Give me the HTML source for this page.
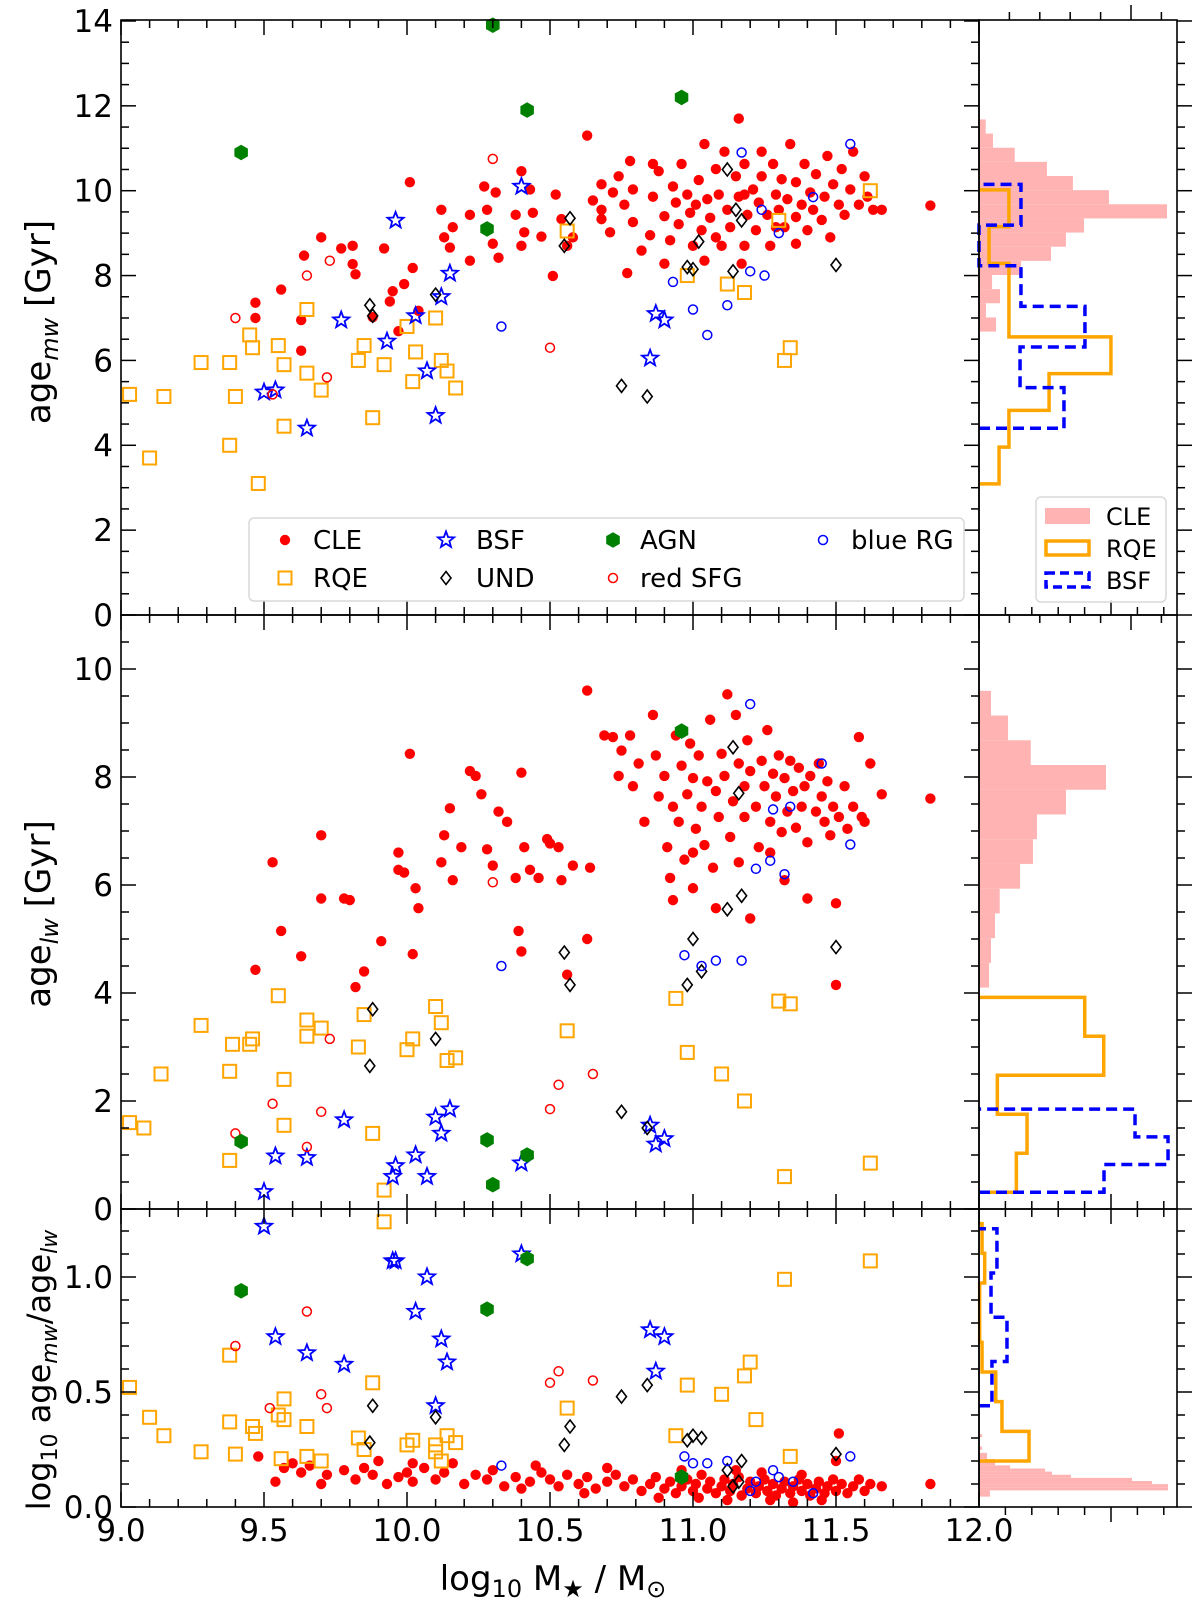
<!DOCTYPE html>
<html><head><meta charset="utf-8"><style>
html,body{margin:0;padding:0;background:#fff;}
svg{display:block;font-family:"DejaVu Sans","Liberation Sans",sans-serif;}
</style></head><body>
<svg id="chart" width="1200" height="1601" viewBox="0 0 1200 1601" xmlns="http://www.w3.org/2000/svg">
<g id="marks"></g>
<g id="axes"></g>
<g id="legends"></g>
</svg>
<script>
// ---------- data (mass, age) ----------
const topCLE=[9.47,7.36,9.47,7.0,9.56,7.67,9.63,6.23,9.63,6.95,9.70,8.9,9.64,8.47,9.77,8.64,9.81,8.7,9.81,8.27,9.82,8.03,9.92,8.64,9.88,7.02,9.94,7.39,9.97,6.69,9.95,7.63,10.01,10.2,10.02,8.18,9.99,7.8,10.04,7.17,10.12,9.55,10.13,8.9,10.15,8.66,10.16,9.14,10.22,9.43,10.22,8.35,10.27,10.1,10.28,9.55,10.31,9.96,10.30,8.75,10.32,8.42,10.38,9.43,10.40,10.46,10.40,8.7,10.41,9.02,10.43,10.03,10.44,9.48,10.47,8.92,10.52,9.91,10.54,9.33,10.56,8.7,10.51,7.99,10.58,8.9,10.63,11.3,10.65,9.77,10.68,9.33,10.68,10.15,10.71,9.02,10.74,10.34,10.76,9.67,10.78,10.7,10.79,9.26,10.82,8.59,10.85,8.95,10.86,9.86,10.88,10.46,10.9,9.4,10.92,8.83,10.93,10.1,10.94,9.72,10.95,9.21,10.96,10.63,10.98,9.91,10.99,9.48,11.0,8.7,11.01,9.67,11.02,10.25,11.03,9.07,11.04,8.35,11.05,9.8,11.06,9.36,11.08,10.51,11.09,9.91,11.1,8.7,11.11,10.92,11.12,9.55,11.13,9.14,11.15,10.34,11.16,9.86,11.16,11.7,11.18,8.7,11.18,10.63,11.19,9.43,11.21,10.03,11.22,9.07,11.23,9.72,11.24,10.34,11.26,9.43,11.27,8.7,11.28,10.63,11.29,9.91,11.3,9.55,11.31,10.27,11.32,9.14,11.33,9.8,11.34,11.1,11.36,9.38,11.36,10.2,11.38,9.67,11.39,10.63,11.4,9.07,11.41,9.96,11.42,9.55,11.43,10.39,11.45,9.31,11.46,9.86,11.47,10.82,11.48,8.9,11.49,10.15,11.51,9.67,11.52,10.51,11.53,9.43,11.55,10.03,11.56,10.92,11.58,9.67,11.6,10.34,11.61,9.86,11.63,9.55,11.66,9.55,11.83,9.65,10.72,9.96,10.77,8.06,10.9,8.28,11.04,11.1,11.08,8.9,11.24,10.92,11.17,8.28,11.29,9.14,11.36,8.75,11.18,9.91,10.86,10.63,10.68,9.55,10.79,10.03];
const topRQE=[9.03,5.2,9.15,5.15,9.1,3.7,9.28,5.95,9.38,5.95,9.4,5.15,9.38,4.0,9.45,6.6,9.46,6.3,9.48,3.1,9.55,6.35,9.57,5.9,9.57,4.45,9.65,7.2,9.65,5.7,9.7,5.3,9.83,6.0,9.85,6.35,9.88,4.65,9.92,5.9,10.0,6.8,10.02,5.5,10.03,6.2,10.1,7.0,10.12,6.0,10.14,5.75,10.17,5.35,10.56,9.05,10.98,8.0,11.12,7.8,11.18,7.6,11.3,9.3,11.32,6.0,11.34,6.3,11.62,10.0];
const topBSF=[9.5,5.25,9.54,5.3,9.65,4.4,9.77,6.95,9.93,6.45,9.96,9.3,10.03,7.05,10.07,5.75,10.1,4.7,10.12,7.5,10.15,8.05,10.4,10.1,10.87,7.1,10.85,6.05,10.9,6.95];
const topUND=[9.87,7.3,9.88,7.05,10.1,7.55,10.55,8.7,10.57,9.35,10.75,5.4,10.84,5.15,10.98,8.2,11.0,8.15,11.02,8.8,11.12,10.5,11.15,9.55,11.17,9.3,11.14,8.1,11.5,8.25];
const topSFG=[9.4,7.0,9.53,5.2,9.65,8.0,9.72,5.6,9.73,8.35,10.3,10.75,10.5,6.3];
const topRG=[10.33,6.8,10.93,7.85,11.0,7.2,11.05,6.6,11.12,7.3,11.17,10.9,11.2,8.1,11.24,9.55,11.25,8.0,11.3,9.0,11.42,9.85,11.55,11.1];
const topAGN=[9.42,10.9,10.3,13.9,10.42,11.9,10.96,12.2,10.28,9.1];

const midCLE=[9.47,4.43,9.53,6.42,9.56,5.15,9.63,4.68,9.70,5.75,9.70,6.92,9.78,5.75,9.8,5.72,9.82,4.11,9.85,4.4,9.91,4.96,9.97,6.6,9.97,6.28,9.99,6.23,10.01,8.43,10.02,4.72,10.03,5.94,10.04,5.57,10.12,6.42,10.13,6.92,10.15,7.42,10.16,6.09,10.19,6.7,10.22,8.11,10.24,8.02,10.26,7.68,10.28,6.66,10.30,6.36,10.32,7.36,10.35,7.17,10.38,6.13,10.40,8.08,10.41,6.7,10.43,6.28,10.39,5.15,10.4,4.77,10.46,6.13,10.49,6.85,10.5,6.77,10.53,6.7,10.56,4.34,10.54,6.09,10.58,6.36,10.63,5.0,10.63,9.6,10.64,6.32,10.69,8.77,10.72,8.74,10.74,8.02,10.75,8.49,10.78,8.77,10.79,7.83,10.81,8.25,10.83,7.17,10.86,9.15,10.87,8.4,10.88,7.64,10.9,8.02,10.91,6.7,10.92,6.13,10.93,7.45,10.94,8.77,10.95,7.17,10.96,8.21,10.97,6.47,10.98,7.68,10.99,8.62,11.0,7.98,11.0,5.94,11.01,7.04,11.02,8.4,11.03,7.45,11.04,6.74,11.05,7.92,11.06,9.06,11.07,6.32,11.08,7.74,11.09,7.26,11.1,8.43,11.11,8.02,11.12,9.53,11.13,6.89,11.14,7.55,11.15,9.15,11.16,8.25,11.16,6.42,11.18,7.83,11.18,7.26,11.19,8.68,11.2,8.11,11.22,7.45,11.23,6.7,11.24,8.3,11.25,7.83,11.26,8.87,11.27,7.17,11.28,8.06,11.29,7.64,11.3,8.4,11.31,6.98,11.32,7.98,11.33,7.36,11.34,8.3,11.35,7.74,11.36,7.06,11.37,8.17,11.38,7.45,11.39,7.83,11.4,6.79,11.41,8.02,11.43,7.36,11.44,8.25,11.45,7.64,11.46,7.17,11.47,7.92,11.48,6.92,11.49,7.45,11.5,5.66,11.5,4.15,11.51,7.26,11.53,7.83,11.54,7.04,11.56,7.45,11.58,8.74,11.59,7.26,11.6,7.17,11.62,8.25,11.66,7.68,11.83,7.6,11.27,6.6,11.4,5.75,11.2,5.38,11.32,6.09,11.08,5.57,11.0,6.6,10.93,5.72];
const midRQE=[9.03,1.6,9.08,1.5,9.14,2.5,9.28,3.4,9.38,2.55,9.39,3.05,9.38,0.9,9.45,3.05,9.46,3.15,9.55,3.95,9.57,2.4,9.57,1.55,9.65,3.5,9.65,3.2,9.7,3.35,9.83,3.0,9.85,3.6,9.88,1.4,9.92,0.35,10.0,2.95,10.02,3.15,10.1,3.75,10.12,3.45,10.14,2.75,10.17,2.8,10.56,3.3,10.94,3.9,10.98,2.9,11.1,2.5,11.18,2.0,11.3,3.85,11.32,0.6,11.34,3.8,11.62,0.85];
const midBSF=[9.5,0.32,9.54,0.98,9.65,0.95,9.78,1.65,9.95,0.6,9.96,0.8,10.03,1.0,10.07,0.6,10.1,1.7,10.12,1.4,10.15,1.85,10.4,0.85,10.85,1.55,10.87,1.2,10.9,1.3];
const midUND=[9.88,3.7,9.87,2.65,10.1,3.15,10.55,4.75,10.57,4.15,10.75,1.8,10.84,1.5,10.98,4.15,11.0,5.0,11.03,4.4,11.12,5.55,11.14,8.55,11.17,5.8,11.16,7.7,11.5,4.85];
const midSFG=[9.4,1.4,9.53,1.95,9.65,1.15,9.7,1.8,9.73,3.15,10.3,6.05,10.5,1.85,10.53,2.3,10.65,2.5];
const midRG=[10.33,4.5,10.97,4.7,11.03,4.5,11.08,4.6,11.17,4.6,11.2,9.35,11.22,6.3,11.27,6.45,11.28,7.4,11.32,6.2,11.34,7.45,11.45,8.25,11.55,6.75];
const midAGN=[9.42,1.25,10.28,1.28,10.3,0.45,10.42,1.0,10.96,8.85];

const botCLE=[9.48,0.22,9.54,0.11,9.57,0.17,9.63,0.15,9.66,0.18,9.7,0.1,9.72,0.14,9.78,0.16,9.82,0.12,9.85,0.17,9.88,0.14,9.9,0.2,9.93,0.1,9.97,0.13,10.0,0.15,10.02,0.11,10.06,0.17,10.1,0.12,10.13,0.15,10.16,0.19,10.2,0.1,10.24,0.14,10.28,0.12,10.3,0.16,10.34,0.09,10.38,0.13,10.4,0.08,10.43,0.11,10.47,0.15,10.5,0.12,10.53,0.09,10.56,0.14,10.6,0.1,10.63,0.13,10.66,0.08,10.7,0.11,10.73,0.14,10.76,0.09,10.79,0.12,10.82,0.07,10.85,0.1,10.87,0.13,10.9,0.08,10.92,0.11,10.94,0.06,10.96,0.09,10.98,0.12,11.0,0.07,11.01,0.1,11.03,0.14,11.05,0.08,11.06,0.11,11.08,0.06,11.1,0.09,11.11,0.12,11.13,0.07,11.14,0.1,11.16,0.13,11.17,0.05,11.19,0.08,11.2,0.11,11.22,0.06,11.23,0.09,11.25,0.12,11.26,0.07,11.28,0.1,11.29,0.05,11.31,0.08,11.32,0.11,11.34,0.06,11.35,0.09,11.37,0.12,11.38,0.07,11.4,0.1,11.41,0.05,11.43,0.08,11.44,0.11,11.46,0.06,11.47,0.09,11.49,0.12,11.5,0.07,11.51,0.32,11.52,0.1,11.54,0.06,11.56,0.09,11.58,0.12,11.6,0.07,11.62,0.1,11.66,0.09,11.83,0.1,10.96,0.16,11.02,0.04,11.12,0.03,11.27,0.03,11.45,0.03,10.88,0.04,10.62,0.06,11.38,0.14,11.24,0.15,11.15,0.16,10.7,0.17,10.45,0.18,10.02,0.19,9.6,0.19,11.5,0.2,11.35,0.02];
const botRQE=[9.03,0.52,9.1,0.39,9.15,0.31,9.28,0.24,9.38,0.66,9.38,0.37,9.4,0.23,9.46,0.35,9.47,0.32,9.55,0.40,9.56,0.21,9.57,0.47,9.57,0.38,9.65,0.35,9.65,0.22,9.7,0.20,9.83,0.30,9.85,0.25,9.88,0.54,9.92,1.24,10.0,0.27,10.02,0.29,10.1,0.27,10.1,0.24,10.12,0.20,10.14,0.31,10.17,0.28,10.56,0.43,10.94,0.31,10.98,0.53,11.1,0.49,11.18,0.57,11.2,0.63,11.22,0.38,11.32,0.99,11.34,0.22,11.62,1.07];
const botBSF=[9.5,1.22,9.54,0.74,9.65,0.67,9.78,0.62,9.95,1.07,9.96,1.07,10.03,0.85,10.07,1.0,10.1,0.44,10.12,0.73,10.14,0.63,10.4,1.1,10.85,0.77,10.87,0.59,10.9,0.74];
const botUND=[9.88,0.44,9.87,0.28,10.1,0.39,10.55,0.27,10.57,0.35,10.75,0.48,10.84,0.53,10.98,0.29,11.0,0.31,11.03,0.3,11.12,0.16,11.14,0.09,11.17,0.2,11.16,0.11,11.5,0.23];
const botSFG=[9.4,0.70,9.52,0.43,9.65,0.85,9.7,0.49,9.72,0.43,10.5,0.54,10.53,0.59,10.65,0.55];
const botRG=[10.33,0.18,10.97,0.22,11.0,0.19,11.05,0.19,11.12,0.2,11.2,0.07,11.22,0.11,11.3,0.13,11.35,0.11,11.42,0.06,11.55,0.22,11.28,0.16];
const botAGN=[9.42,0.94,10.28,0.86,10.42,1.08,10.96,0.13];

// ---------- histogram data (start edge, bin width, values bottom-up) ----------
const hTopCLE=[1.12,0.46,1.38,0.86,2.76,4.74,5.72,6.91,12.37,8.55,6.18,4.47,2.35,0.92,0.44];
const hTopCLEbins=[6.68,0.3333];
const hTopRQE=[1.32,1.97,4.61,8.68,1.97,1.97,0.66,1.97];
const hTopRQEbins=[3.09,0.866];
const hTopBSF=[5.59,2.70,6.97,2.76,0,2.76];
const hTopBSFbins=[4.40,0.958];
const hMidCLE=[0.76,0.91,1.21,1.57,3.11,4.09,4.39,6.59,9.62,3.92,2.2,0.91];
const hMidCLEbins=[4.10,0.458];
const hMidRQE=[2.83,3.64,1.39,9.45,8.01];
const hMidRQEbins=[0.31,0.722];
const hMidBSF=[9.47,14.32,11.82];
const hMidBSFbins=[0.31,0.513];
const hBotCLE=[0.83,0.83,14.32,14.32,13.11,11.59,6.97,5.53,5.0,2.35,1.21,1.21,0.61,0.61,0,0.23,0,0,0,0.23];
const hBotCLEbins=[0.045,0.0136];
const hBotRQE=[3.79,1.74,1.27,0.23,0.05,0.05,0.43,0.23];
const hBotRQEbins=[0.20,0.129];
const hBotBSF=[0.98,2.12,0.91,1.36];
const hBotBSFbins=[0.44,0.1925];

// ---------- scales ----------
const NS="http://www.w3.org/2000/svg";
const X0=121,X1=979,HX1=1177;
const X=v=>X0+(v-9)*286;
const Yt=v=>615-v*42.43;
const Ym=v=>1209-v*54;
const Yb=v=>1507-v*230;
const HXs=15.2, HXm=13.2;
const marks=document.getElementById('marks');
const axes=document.getElementById('axes');
const legends=document.getElementById('legends');
function mk(tag,attrs,parent){const e=document.createElementNS(NS,tag);for(const k in attrs)e.setAttribute(k,attrs[k]);(parent||marks).appendChild(e);return e;}

function markerShape(type,cx,cy,parent){
  let e;
  if(type==='CLE'){e=mk('circle',{cx:cx,cy:cy,r:5.2,fill:'#ff0000'},parent);}
  else if(type==='RQE'){e=mk('rect',{x:cx-6.5,y:cy-6.5,width:13,height:13,fill:'none',stroke:'#ffa500','stroke-width':2},parent);}
  else if(type==='BSF'){let p='';for(let i=0;i<10;i++){const r=i%2?3.6:8.5;const a=-Math.PI/2+i*Math.PI/5;p+=(i?'L':'M')+(cx+r*Math.cos(a)).toFixed(1)+' '+(cy+r*Math.sin(a)).toFixed(1);}e=mk('path',{d:p+'Z',fill:'none',stroke:'#0000ff','stroke-width':1.8},parent);}
  else if(type==='UND'){e=mk('path',{d:`M${cx} ${cy-6.5}L${cx+5} ${cy}L${cx} ${cy+6.5}L${cx-5} ${cy}Z`,fill:'none',stroke:'#000','stroke-width':1.6},parent);}
  else if(type==='SFG'){e=mk('circle',{cx:cx,cy:cy,r:4.5,fill:'none',stroke:'#ff0000','stroke-width':1.5},parent);}
  else if(type==='RG'){e=mk('circle',{cx:cx,cy:cy,r:4.5,fill:'none',stroke:'#0000ff','stroke-width':1.5},parent);}
  else if(type==='AGN'){let p='';for(let i=0;i<6;i++){const a=-Math.PI/2+i*Math.PI/3;p+=(i?'L':'M')+(cx+7.8*Math.cos(a)).toFixed(1)+' '+(cy+7.8*Math.sin(a)).toFixed(1);}e=mk('path',{d:p+'Z',fill:'#008000'},parent);}
  return e;
}
function scatter(arr,type,ys,panel){
  for(let i=0;i<arr.length;i+=2){
    const e=markerShape(type,X(arr[i]),ys(arr[i+1]));
    
    
  }
}
[['top',Yt,[topCLE,topRQE,topBSF,topUND,topSFG,topRG,topAGN]],['mid',Ym,[midCLE,midRQE,midBSF,midUND,midSFG,midRG,midAGN]],['bot',Yb,[botCLE,botRQE,botBSF,botUND,botSFG,botRG,botAGN]]].forEach(([p,ys,sets])=>{
  ['CLE','RQE','BSF','UND','SFG','RG','AGN'].forEach((t,i)=>scatter(sets[i],t,ys,p));
});

// ---------- histograms ----------
function histFill(vals,bins,ys,sc,name){
  vals.forEach((v,i)=>{if(v<=0)return;
    const lo=bins[0]+i*bins[1],hi=lo+bins[1];
    const e=mk('rect',{x:X1,y:ys(hi),width:v*sc,height:ys(lo)-ys(hi),fill:'#ffb3b3'});
    
    
  });
}
function histStep(vals,bins,ys,sc,color,dash,name){
  let d=`M${X1} ${ys(bins[0])}`;
  vals.forEach((v,i)=>{const lo=bins[0]+i*bins[1],hi=lo+bins[1];d+=`L${X1+v*sc} ${ys(lo)}L${X1+v*sc} ${ys(hi)}`;});
  d+=`L${X1} ${ys(bins[0]+vals.length*bins[1])}`;
  const e=mk('path',{d:d,fill:'none',stroke:color,'stroke-width':3.5,'stroke-dasharray':dash||'none'});
  
  
}
histFill(hTopCLE,hTopCLEbins,Yt,HXs,'top-hist-cle');
histStep(hTopRQE,hTopRQEbins,Yt,HXs,'#ffa500',null,'top-hist-rqe');
histStep(hTopBSF,hTopBSFbins,Yt,HXs,'#0000ff','11,6','top-hist-bsf');
histFill(hMidCLE,hMidCLEbins,Ym,HXm,'mid-hist-cle');
histStep(hMidRQE,hMidRQEbins,Ym,HXm,'#ffa500',null,'mid-hist-rqe');
histStep(hMidBSF,hMidBSFbins,Ym,HXm,'#0000ff','11,6','mid-hist-bsf');
histFill(hBotCLE,hBotCLEbins,Yb,HXm,'bot-hist-cle');
histStep(hBotRQE,hBotRQEbins,Yb,HXm,'#ffa500',null,'bot-hist-rqe');
histStep(hBotBSF,hBotBSFbins,Yb,HXm,'#0000ff','11,6','bot-hist-bsf');

// ---------- axes ----------
const panels=[{n:'top',y0:20,y1:615,ys:Yt,max:14,maj:2,min:0.5,labels:['0','2','4','6','8','10','12','14'],lv:[0,2,4,6,8,10,12,14],hsp:30.4},
 {n:'mid',y0:615,y1:1209,ys:Ym,max:10.99,maj:2,min:0.5,labels:['0','2','4','6','8','10'],lv:[0,2,4,6,8,10],hsp:26.4},
 {n:'bot',y0:1209,y1:1507,ys:Yb,max:1.29,maj:0.5,min:0.1,labels:['0.0','0.5','1.0'],lv:[0,0.5,1.0],hsp:26.4}];
function line(x1,y1,x2,y2,w,parent){return mk('line',{x1:x1,y1:y1,x2:x2,y2:y2,stroke:'#000','stroke-width':w||1.5},parent||axes);}
panels.forEach(P=>{
  const f=mk('rect',{x:X0,y:P.y0,width:X1-X0,height:P.y1-P.y0,fill:'none',stroke:'#000','stroke-width':1.6},axes);
  
  const h=mk('rect',{x:X1,y:P.y0,width:HX1-X1,height:P.y1-P.y0,fill:'none',stroke:'#000','stroke-width':1.6},axes);
  
  for(let v=0;v<=P.max+1e-6;v+=P.min){
    const isMaj=Math.abs(v/P.maj-Math.round(v/P.maj))<1e-6;const L=isMaj?15:8;const y=P.ys(v);
    if(y<P.y0-0.5)continue;
    line(X0,y,X0+L,y);line(X1,y,X1-L,y);line(HX1,y,HX1+L,y);
  }
  for(let k=0;k<=30;k++){const v=9+k*0.1;const x=X(v);const L=(k%5===0)?15:8;line(x,P.y0,x,P.y0+L);line(x,P.y1,x,P.y1-L);}
  for(let k=1;k*P.hsp<HX1-X1-2;k++){const x=X1+k*P.hsp;const L=(k%5===0)?15:8;line(x,P.y0,x,P.y0-L);line(x,P.y1,x,P.y1+L);}
  P.labels.forEach((t,i)=>{const e=mk('text',{x:113,y:P.ys(P.lv[i])+11,'text-anchor':'end','font-size':31},axes);e.textContent=t;
    });
});
const xt=['9.0','9.5','10.0','10.5','11.0','11.5','12.0'];
xt.forEach((t,i)=>{const e=mk('text',{x:X(9+i*0.5),y:1541,'text-anchor':'middle','font-size':31},axes);e.textContent=t;
  });
</script>
<svg style="position:absolute;left:0;top:0" width="1200" height="1601" viewBox="0 0 1200 1601" xmlns="http://www.w3.org/2000/svg" font-family="DejaVu Sans, Liberation Sans, sans-serif">
<text transform="translate(50,322) rotate(-90)" text-anchor="middle" font-size="34">age<tspan font-size="24" dy="8" font-style="italic">mw</tspan><tspan dy="-8"> [Gyr]</tspan></text>
<text transform="translate(50,914) rotate(-90)" text-anchor="middle" font-size="34">age<tspan font-size="24" dy="8" font-style="italic">lw</tspan><tspan dy="-8"> [Gyr]</tspan></text>
<text transform="translate(50,1370) rotate(-90)" text-anchor="middle" font-size="32">log<tspan font-size="22" dy="7">10</tspan><tspan dy="-7"> age</tspan><tspan font-size="22" dy="7" font-style="italic">mw</tspan><tspan dy="-7">/age</tspan><tspan font-size="22" dy="7" font-style="italic">lw</tspan></text>
<text x="553" y="1590" text-anchor="middle" font-size="34">log<tspan font-size="24" dy="7">10</tspan><tspan dy="-7"> M</tspan><tspan font-size="24" dy="7">★</tspan><tspan dy="-7"> / M</tspan><tspan font-size="24" dy="7">⊙</tspan></text>
</svg>
<script>
(function(){
  const lg=document.getElementById('legends');
  const box=mk('rect',{x:249,y:518,width:715,height:83,rx:5,fill:'#fff','fill-opacity':0.85,stroke:'#d9d9d9','stroke-width':1.5},lg);
  
  const ents=[['CLE','CLE',285,313,540],['BSF','BSF',446,476,540],['AGN','AGN',613,640,540],['RG','blue RG',823,851,540],['RQE','RQE',285,313,578],['UND','UND',446,476,578],['SFG','red SFG',613,640,578]];
  ents.forEach(en=>{const g=mk('g',{},lg);
    
    
    markerShape(en[0],en[2],en[4],g);
    const t=mk('text',{x:en[3],y:en[4]+9,'font-size':26},g);t.textContent=en[1];});
  const hb=mk('rect',{x:1036,y:497,width:130,height:105,rx:5,fill:'#fff','fill-opacity':0.85,stroke:'#d9d9d9','stroke-width':1.5},lg);
  
  const he=[['CLE',516],['RQE',548],['BSF',580]];
  he.forEach((h,i)=>{const g=mk('g',{},lg);
    
    
    if(i===0)mk('rect',{x:1045,y:h[1]-8,width:45,height:16,fill:'#ffb3b3'},g);
    else mk('rect',{x:1046,y:h[1]-7,width:43,height:14,fill:'none',stroke:i===1?'#ffa500':'#0000ff','stroke-width':3.5,'stroke-dasharray':i===2?'9,5':'none'},g);
    const t=mk('text',{x:1106,y:h[1]+9,'font-size':24},g);t.textContent=h[0];});
})();
</script>
</body></html>
